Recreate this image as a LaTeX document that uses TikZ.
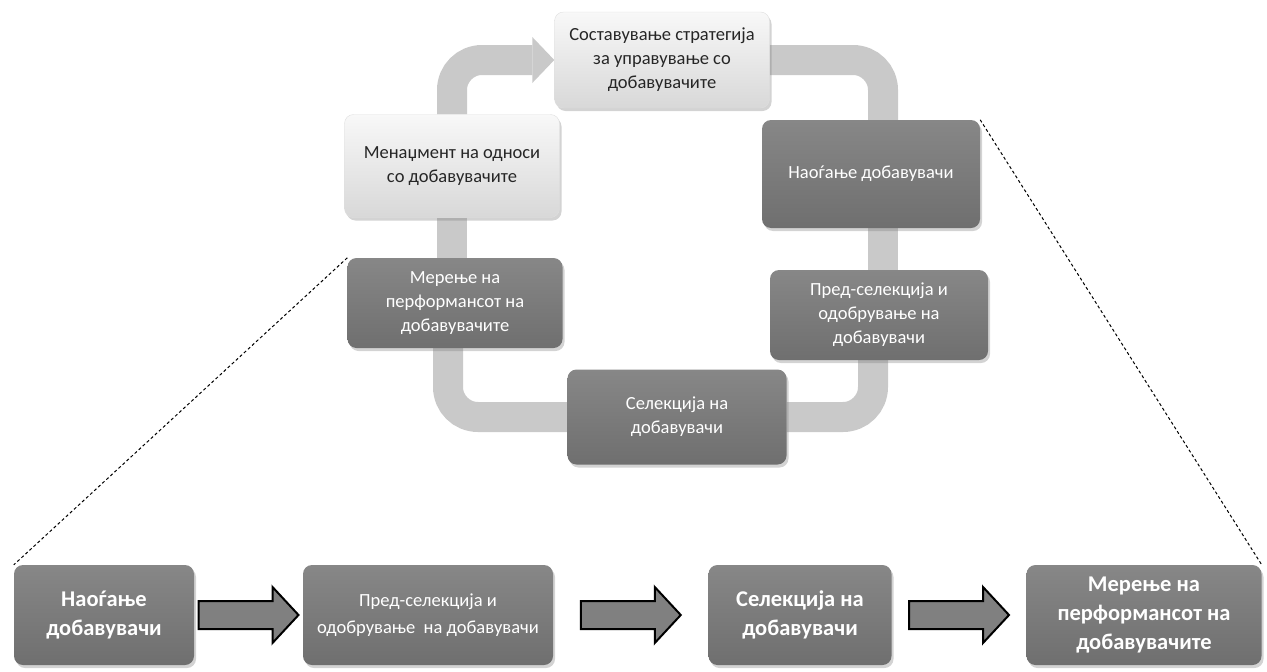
\documentclass[tikz,border=0pt]{standalone}
\usepackage{fontspec}
\setmainfont{Carlito}
\usepackage{tikz}
\usetikzlibrary{positioning, arrows.meta, calc, backgrounds, shadows}
\definecolor{bandgray}{HTML}{C9C9C9}
\definecolor{darkfill}{HTML}{6F6F6F}
\definecolor{darktop}{HTML}{878787}
\definecolor{lightfill}{HTML}{D8D8D8}
\definecolor{lighttop}{HTML}{F8F8F8}
\definecolor{arrowfill}{HTML}{808080}
\definecolor{textdark}{HTML}{262626}

% hollow block arrow between two boxes of the lower row
\newcommand{\blockarrow}[2]{%
  \coordinate (mid) at ($(#1.east)!0.5!(#2.west)$);
  \draw[blockarr] ($(mid)+(-50,-14)$) -- ($(mid)+(24,-14)$) -- ($(mid)+(24,-28)$)
    -- ($(mid)+(50,0)$) -- ($(mid)+(24,28)$) -- ($(mid)+(24,14)$) -- ($(mid)+(-50,14)$) -- cycle;
}

\begin{document}
\begin{tikzpicture}[x=1pt, y=-1pt,
    box/.style={rounded corners=9pt, align=center, inner sep=2pt,
      drop shadow={opacity=0.35, shadow xshift=2pt, shadow yshift=-3pt}},
    lightbox/.style={box, draw=gray!25, top color=lighttop, bottom color=lightfill,
      text=textdark, font=\fontsize{18.5}{24}\selectfont},
    darkbox/.style={box, top color=darktop, bottom color=darkfill,
      text=white, font=\fontsize{18.5}{24}\selectfont},
    rowbox/.style={darkbox, minimum height=100pt, font=\fontsize{22.5}{29}\selectfont\bfseries},
    band/.style={line width=30pt, bandgray, rounded corners=30pt},
    blockarr/.style={draw=black, line width=2pt, fill=arrowfill, line join=miter},
    zoomline/.style={black, line width=1pt, dashed, dash pattern=on 3pt off 2.5pt},
]
\useasboundingbox (0,0) rectangle (1267,672);

% Cycle
\node[lightbox, minimum width=215pt, minimum height=96pt] (strat) at (662,60) {Составување стратегија\\за управување со\\добавувачите};
\node[lightbox, minimum width=215pt, minimum height=103pt] (mgmt) at (452,166) {Менаџмент на односи\\со добавувачите};
\node[darkbox, minimum width=218pt, minimum height=108pt] (find) at (871,174) {Наоѓање добавувачи};
\node[darkbox, minimum width=215pt, minimum height=90pt] (meas) at (455,303) {Мерење на\\перформансот на\\добавувачите};
\node[darkbox, minimum width=218pt, minimum height=90pt] (presel) at (879,315) {Пред-селекција и\\одобрување на\\добавувачи};
\node[darkbox, minimum width=219pt, minimum height=95pt] (sel) at (677,417) {Селекција на\\добавувачи};

\begin{scope}[on background layer]
\draw[band, -{Triangle[length=22pt, width=46pt, line width=0pt]}] (mgmt.north) |- (strat.west);
\draw[band] (strat.east) -| ([xshift=12pt]find.north);
\draw[band] ([xshift=12pt]find.south) -- ([xshift=12pt]find.south |- presel.north);
\draw[band] ([xshift=-6pt]presel.south) |- (sel.east);
\draw[band] (sel.west) -| ([xshift=-7pt]meas.south);
\draw[band] (mgmt.south) -- (mgmt.south |- meas.north);
\end{scope}

% Lower row
\node[rowbox, minimum width=180pt] (findrow) at (104,615) {Наоѓање\\добавувачи};
\node[rowbox, minimum width=250pt, font=\fontsize{18.5}{27}\selectfont] (preselrow) at (428,615) {Пред-селекција и\\одобрување \ на добавувачи};
\node[rowbox, minimum width=183pt] (selrow) at (800,615) {Селекција на\\добавувачи};
\node[rowbox, minimum width=235pt] (measrow) at (1144,615) {Мерење на\\перформансот на\\добавувачите};

\blockarrow{findrow}{preselrow}
\blockarrow{preselrow}{selrow}
\blockarrow{selrow}{measrow}

% Zoom lines
\draw[zoomline] (meas.north west) -- (findrow.north west);
\draw[zoomline] (find.north east) -- (measrow.north east);

\end{tikzpicture}
\end{document}
